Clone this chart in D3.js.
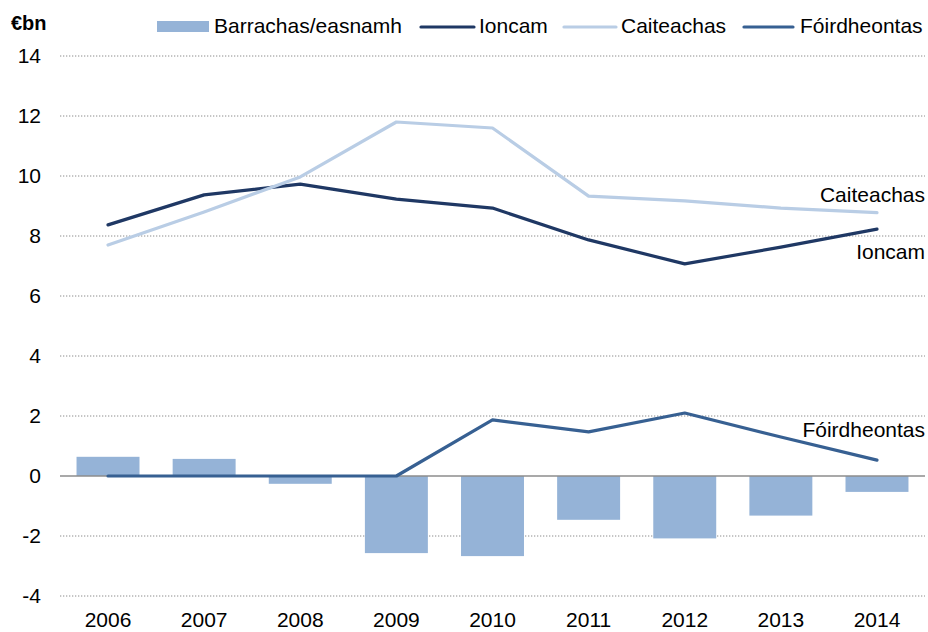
<!DOCTYPE html>
<html>
<head>
<meta charset="utf-8">
<script src="https://cdn.jsdelivr.net/npm/d3@7"></script>
<style>
  body { margin: 0; background: #fff; }
  text { font-family: "Liberation Sans", Arial, sans-serif; fill: #000; }
</style>
</head>
<body>
<script>
// Chart values
const years = ["2006", "2007", "2008", "2009", "2010", "2011", "2012", "2013", "2014"];
const barrachas = [0.64, 0.57, -0.26, -2.57, -2.67, -1.46, -2.08, -1.32, -0.53];
const ioncam = [8.37, 9.37, 9.73, 9.23, 8.93, 7.87, 7.07, 7.63, 8.23];
const caiteachas = [7.7, 8.8, 9.97, 11.8, 11.6, 9.33, 9.17, 8.93, 8.78];
const foirdheontas = [0, 0, 0, 0, 1.87, 1.47, 2.1, 1.3, 0.53];
const yTicks = [-4, -2, 0, 2, 4, 6, 8, 10, 12, 14];

const width = 928, height = 632;

const svg = d3.select("body").append("svg")
    .attr("width", width)
    .attr("height", height);

const x = d3.scaleBand().domain(years).range([60, 925]).paddingInner(0.345).paddingOuter(0.172);
const y = d3.scaleLinear().domain([-4, 14]).range([596, 56]);

// Gridlines
svg.selectAll(".grid")
    .data(yTicks.filter(d => d !== 0))
    .enter()
    .append("line")
    .attr("x1", 60)
    .attr("x2", 925)
    .attr("y1", d => y(d))
    .attr("y2", d => y(d))
    .attr("stroke", "#8c8c8c")
    .attr("stroke-width", 1)
    .attr("stroke-dasharray", "1.3,1.7");

// Y axis labels (plain hyphen for negatives, as in the original)
svg.append("g")
    .attr("transform", "translate(50,0)")
    .call(d3.axisLeft(y).tickValues(yTicks).tickSize(0).tickPadding(9).tickFormat(d => String(d)))
    .call(g => g.select(".domain").remove())
    .selectAll("text")
    .style("font-size", "21px");

// X axis labels
svg.append("g")
    .attr("transform", "translate(0,604)")
    .call(d3.axisBottom(x).tickSize(0).tickPadding(8))
    .call(g => g.select(".domain").remove())
    .selectAll("text")
    .style("font-size", "21px");

// Bars
svg.selectAll(".bar")
    .data(barrachas)
    .enter()
    .append("rect")
    .attr("x", (d, i) => x(years[i]))
    .attr("width", x.bandwidth())
    .attr("y", d => y(Math.max(0, d)))
    .attr("height", d => Math.abs(y(d) - y(0)))
    .attr("fill", "#95b3d7");

// Zero line
svg.append("line")
    .attr("x1", 60).attr("x2", 925)
    .attr("y1", y(0)).attr("y2", y(0))
    .attr("stroke", "#8c8c8c")
    .attr("stroke-width", 1.5);

const line = d3.line()
    .x((d, i) => x(years[i]) + x.bandwidth() / 2)
    .y(d => y(d));

const series = [
    { name: "Ioncam", values: ioncam, color: "#1f3864" },
    { name: "Caiteachas", values: caiteachas, color: "#b9cde5" },
    { name: "Fóirdheontas", values: foirdheontas, color: "#376092" }
];

svg.selectAll(".line")
    .data(series)
    .enter()
    .append("path")
    .attr("d", d => line(d.values))
    .attr("fill", "none")
    .attr("stroke", d => d.color)
    .attr("stroke-width", 3.2)
    .attr("stroke-linejoin", "round")
    .attr("stroke-linecap", "round");

// Direct labels
const labels = [
    { text: "Caiteachas", y: 195 },
    { text: "Ioncam", y: 252 },
    { text: "Fóirdheontas", y: 430 }
];
svg.selectAll(".dlabel")
    .data(labels)
    .enter()
    .append("text")
    .attr("x", 925)
    .attr("y", d => d.y)
    .attr("dy", "0.35em")
    .attr("text-anchor", "end")
    .style("font-size", "21px")
    .text(d => d.text);

// Unit label
svg.append("text")
    .attr("x", 11)
    .attr("y", 30)
    .style("font-size", "20px")
    .style("font-weight", "bold")
    .text("€bn");

// Legend
const legend = svg.append("g");
legend.append("rect")
    .attr("x", 157).attr("y", 21).attr("width", 52).attr("height", 11)
    .attr("fill", "#95b3d7");
legend.append("text").attr("x", 214).attr("y", 26).attr("dy", "0.35em")
    .style("font-size", "21px").text("Barrachas/easnamh");

const legendLines = [
    { name: "Ioncam", color: "#1f3864", x1: 421, x2: 474, tx: 479 },
    { name: "Caiteachas", color: "#b9cde5", x1: 564, x2: 616, tx: 621 },
    { name: "Fóirdheontas", color: "#376092", x1: 744, x2: 793, tx: 800 }
];
legend.selectAll(".ll")
    .data(legendLines)
    .enter()
    .append("line")
    .attr("x1", d => d.x1).attr("x2", d => d.x2)
    .attr("y1", 27).attr("y2", 27)
    .attr("stroke", d => d.color)
    .attr("stroke-width", 3.2)
    .attr("stroke-linecap", "round");
legend.selectAll(".lt")
    .data(legendLines)
    .enter()
    .append("text")
    .attr("x", d => d.tx)
    .attr("y", 26)
    .attr("dy", "0.35em")
    .style("font-size", "21px")
    .text(d => d.name);
</script>
</body>
</html>
